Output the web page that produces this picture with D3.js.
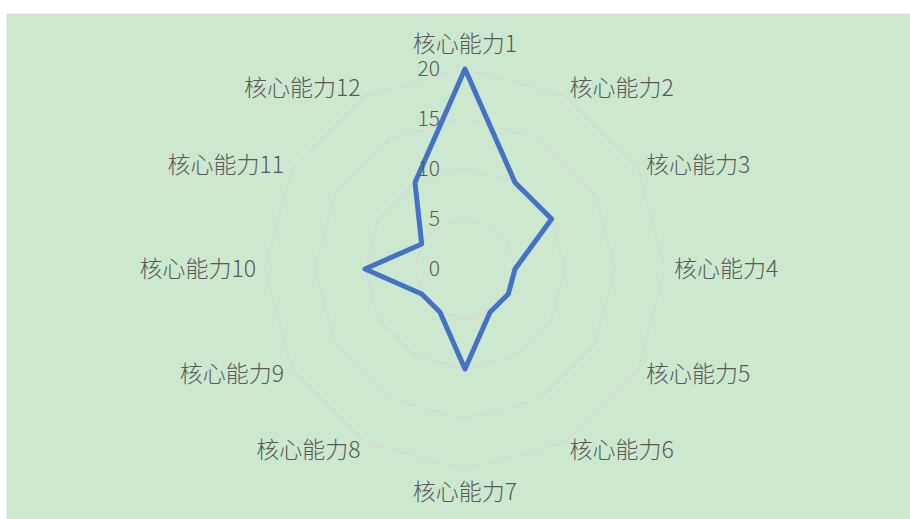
<!DOCTYPE html>
<html>
<head>
<meta charset="utf-8">
<script src="https://cdn.jsdelivr.net/npm/d3@7"></script>
<style>
  html, body { margin: 0; padding: 0; background: #fff; }
  svg { display: block; }
  text { font-family: "Noto Sans CJK SC", "Noto Sans", sans-serif; fill: #595959; }
</style>
</head>
<body>
<div id="chart"></div>
<script>
// radar chart: 核心能力1..12

const categories = ["核心能力1", "核心能力2", "核心能力3", "核心能力4", "核心能力5", "核心能力6",
                    "核心能力7", "核心能力8", "核心能力9", "核心能力10", "核心能力11", "核心能力12"];
const values = [20, 10, 10, 5, 5, 5, 10, 5, 5, 10, 5, 10];
const ticks = [0, 5, 10, 15, 20];

const width = 910, height = 519;
const cx = 465, cy = 269;

const svg = d3.select("#chart")
  .append("svg")
  .attr("width", width)
  .attr("height", height);

// chart area background
svg.append("rect")
  .attr("x", 7.5).attr("y", 14.5)
  .attr("width", width).attr("height", height)
  .attr("fill", "#cce8cf")
  .attr("stroke", "#d9d9d9")
  .attr("stroke-width", 1.5);

const g = svg.append("g").attr("transform", `translate(${cx},${cy})`);

const r = d3.scaleLinear().domain([0, 20]).range([0, 200]);
const angle = d3.scaleBand()
  .domain(categories)
  .range([0, 2 * Math.PI])
  .align(0)
  .paddingInner(0).paddingOuter(0);
const a = d => angle(d);

// grid rings
const ring = d3.lineRadial()
  .angle(d => a(d))
  .curve(d3.curveLinearClosed);

g.selectAll(".ring")
  .data(ticks.filter(t => t > 0))
  .enter()
  .append("path")
  .attr("class", "ring")
  .attr("d", t => ring.radius(() => r(t))(categories))
  .attr("fill", "none")
  .attr("stroke", "#d9d9d9")
  .attr("stroke-width", 1.5);

// data line
const line = d3.lineRadial()
  .angle((d, i) => a(categories[i]))
  .radius(d => r(d))
  .curve(d3.curveLinearClosed);

g.append("path")
  .attr("d", line(values))
  .attr("fill", "none")
  .attr("stroke", "#4472c4")
  .attr("stroke-width", 5)
  .attr("stroke-linejoin", "round");

// tick labels
g.selectAll(".tick-label")
  .data(ticks)
  .enter()
  .append("text")
  .attr("x", -25)
  .attr("y", t => -r(t))
  .attr("dy", "0.35em")
  .attr("text-anchor", "end")
  .attr("font-size", "21px")
  .attr("font-weight", 300)
  .text(t => t);

// category labels
const labelR = 209;
g.selectAll(".cat-label")
  .data(categories)
  .enter()
  .append("text")
  .attr("x", d => labelR * Math.sin(a(d)))
  .attr("y", d => {
    const s = Math.sin(a(d)), c = Math.cos(a(d));
    let y = -labelR * c;
    if (Math.abs(s) < 0.01) y += c > 0 ? -16 : 14;
    return y;
  })
  .attr("dy", "0.35em")
  .attr("text-anchor", d => {
    const s = Math.sin(a(d));
    return Math.abs(s) < 0.01 ? "middle" : (s > 0 ? "start" : "end");
  })
  .attr("font-size", "23px")
  .attr("font-weight", 300)
  .text(d => d);
</script>
</body>
</html>
